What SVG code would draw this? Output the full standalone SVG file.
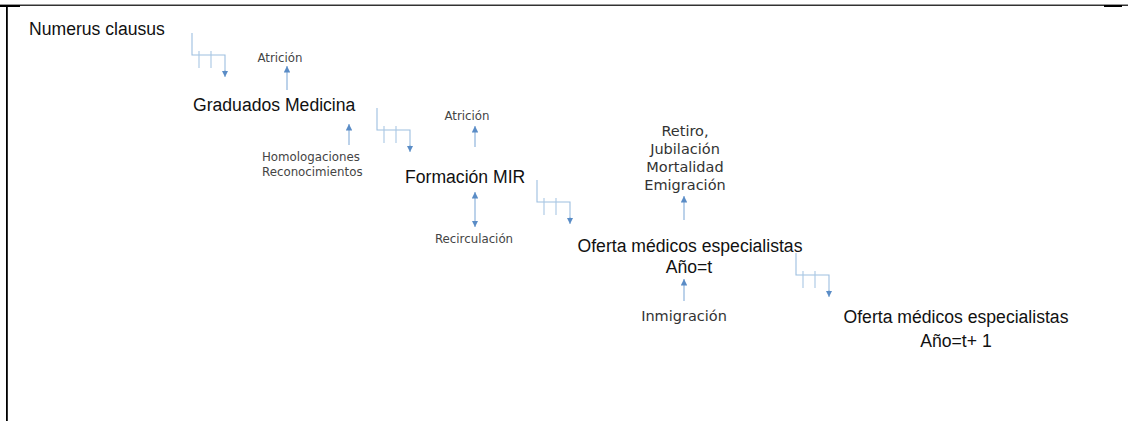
<svg xmlns="http://www.w3.org/2000/svg" xmlns:xlink="http://www.w3.org/1999/xlink" width="1128" height="421" viewBox="0 0 1128 421">
  <style>
    .main { font-family: "Liberation Sans", Arial, sans-serif; font-size: 17.6px; fill: #111; }
    .small { font-family: "DejaVu Sans", "Liberation Sans", sans-serif; font-size: 11.8px; fill: #444; }
    .mid { font-family: "DejaVu Sans", "Liberation Sans", sans-serif; font-size: 14.5px; fill: #333; }
    .flow { fill: none; stroke: #9dbfe0; stroke-width: 1.1; }
    .tick { fill: none; stroke: #a9c7e4; stroke-width: 1.1; }
    .arrow { fill: none; stroke: #8fb4dc; stroke-width: 1.2; marker-end: url(#head); }
    .frame { fill: #000; }
  </style>
  <defs>
    <marker id="head" viewBox="0 0 7 7" refX="7" refY="3.5" markerWidth="6.5" markerHeight="6.5" markerUnits="userSpaceOnUse" orient="auto-start-reverse">
      <path d="M0,0 L7,3.5 L0,7 z" fill="#5a8cc6"/>
    </marker>
    <!-- delay/transfer symbol: drop, run, two ticks, arrow down -->
    <g id="delay">
      <path class="flow" d="M0,0 V22 H33 V38"/>
      <path class="tick" d="M7,18 V35 M19,18 V35"/>
      <line x1="33" y1="37" x2="33" y2="44" style="fill:none;stroke:#9dbfe0;stroke-width:1.1;marker-end:url(#head)"/>
    </g>
  </defs>

  <rect width="1128" height="421" fill="#fff"/>

  <!-- frame -->
  <g id="frame">
    <rect class="frame" x="0" y="4.6" width="1128" height="1.2"/>
    <rect class="frame" x="0" y="5" width="20" height="2"/>
    <rect class="frame" x="1104" y="5" width="18" height="2"/>
    <rect class="frame" x="6" y="5" width="1.8" height="416"/>
  </g>

  <!-- connectors -->
  <g id="connectors">
    <use xlink:href="#delay" href="#delay" x="192" y="33"/>
    <use xlink:href="#delay" href="#delay" x="377" y="108"/>
    <use xlink:href="#delay" href="#delay" x="537" y="180"/>
    <use xlink:href="#delay" href="#delay" x="796" y="253"/>

    <line class="arrow" x1="287" y1="90" x2="287" y2="66"/>
    <line class="arrow" x1="349" y1="145" x2="349" y2="124"/>
    <line class="arrow" x1="475" y1="147" x2="475" y2="126"/>
    <line class="arrow" x1="475" y1="192" x2="475" y2="227" style="marker-start:url(#head)"/>
    <line class="arrow" x1="684" y1="220" x2="684" y2="196"/>
    <line class="arrow" x1="684" y1="301" x2="684" y2="279"/>
  </g>

  <!-- stocks -->
  <g id="numerus-clausus"><text class="main" x="29" y="35">Numerus clausus</text></g>
  <g id="graduados"><text class="main" x="193" y="111">Graduados Medicina</text></g>
  <g id="formacion-mir"><text class="main" x="405" y="183">Formación MIR</text></g>
  <g id="oferta-t">
    <text class="main" x="690" y="252" text-anchor="middle">Oferta médicos especialistas</text>
    <text class="main" x="689" y="273" text-anchor="middle">Año=t</text>
  </g>
  <g id="oferta-t1">
    <text class="main" x="956" y="323" text-anchor="middle">Oferta médicos especialistas</text>
    <text class="main" x="956" y="347" text-anchor="middle">Año=t+ 1</text>
  </g>

  <!-- flows in / out -->
  <g id="atricion-grado"><text class="small" x="280" y="62" text-anchor="middle">Atrición</text></g>
  <g id="homologaciones">
    <text class="small" x="262" y="161">Homologaciones</text>
    <text class="small" x="262" y="176">Reconocimientos</text>
  </g>
  <g id="atricion-mir"><text class="small" x="467" y="120" text-anchor="middle">Atrición</text></g>
  <g id="recirculacion"><text class="small" x="474" y="243" text-anchor="middle">Recirculación</text></g>
  <g id="salidas">
    <text class="mid" x="685" y="136" text-anchor="middle">Retiro,</text>
    <text class="mid" x="685" y="154" text-anchor="middle">Jubilación</text>
    <text class="mid" x="685" y="172" text-anchor="middle">Mortalidad</text>
    <text class="mid" x="685" y="190" text-anchor="middle">Emigración</text>
  </g>
  <g id="inmigracion"><text class="mid" x="684" y="321" text-anchor="middle">Inmigración</text></g>
</svg>
